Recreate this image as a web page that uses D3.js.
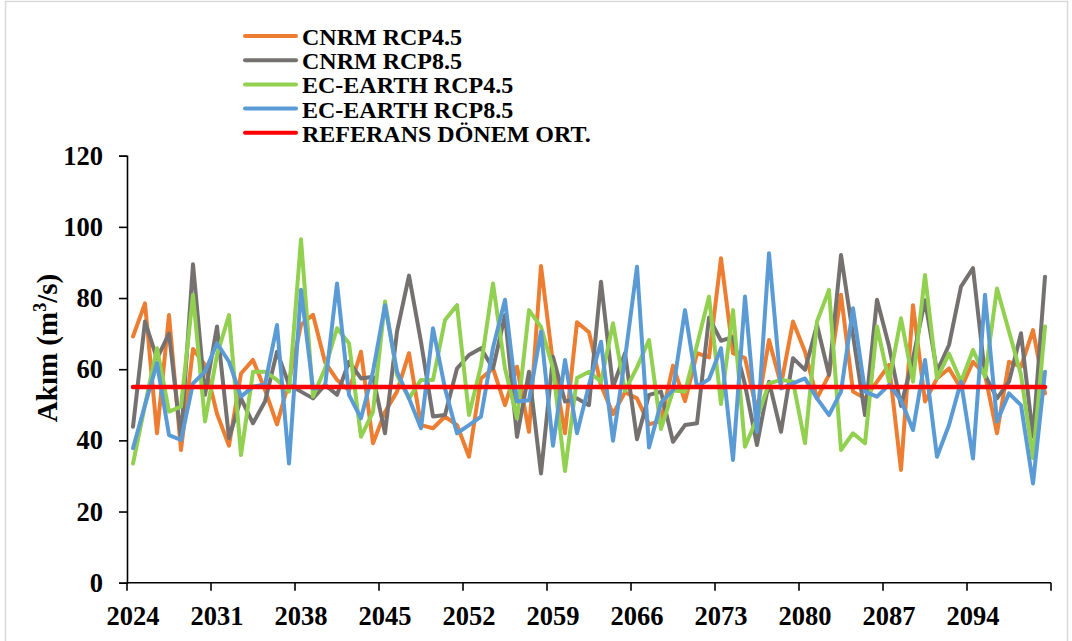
<!DOCTYPE html>
<html><head><meta charset="utf-8">
<script src="https://cdn.jsdelivr.net/npm/d3@7"></script>
<style>
html,body{margin:0;padding:0;background:#fff;}
svg{display:block;}
text{font-family:"Liberation Serif","Times New Roman",serif;font-weight:bold;fill:#000;}
</style>
</head><body>
<svg id="chart" width="1072" height="641"></svg>
<script>
const years = d3.range(2024, 2101);
const xTickLabels = ["2024","2031","2038","2045","2052","2059","2066","2073","2080","2087","2094"];
const yTickValues = [0,20,40,60,80,100,120];
const referansOrt = 55;

const cnrm45 = [69.2,78.5,42,75.2,37.3,65.7,61.2,47.5,38.5,58.8,62.6,54.2,44.5,56.5,72.5,75.3,62,57,54,64.9,
 39.2,48,53.7,64.5,44.3,43.4,46.7,44.3,35.4,57.4,60.2,49.9,60.7,42.4,89,61.5,42,73.2,70.4,55.5,
 47.4,53.5,51.8,44.5,45.5,61,51,64.5,63.3,91.2,64.5,63.1,48.1,68.2,55.6,73.4,64.9,51.8,58.4,80.9,
 53.7,51.8,56.5,61.2,31.7,78,50.9,57.4,60.2,54.6,62.1,58.4,42,62.1,60.7,71,53.2];
const cnrm85 = [43.8,73.4,63,70,40.6,89.5,52.8,72,40.6,51.8,44.8,50.9,64.9,55.6,53.7,51.8,55.6,52.8,62.1,57.4,
 57.9,42,70.6,86.3,67.7,46.7,47.1,60.2,64,65.9,60.2,75.2,41,59.3,30.7,63.5,50.9,51.8,49.9,84.6,
 55,64.5,40.3,52.8,53.7,39.6,44.3,44.8,74.5,68,69,55.6,38.7,56.5,42.4,63.1,59.8,72.4,58.4,92.1,
 69.6,47.1,79.5,66.5,49.7,63,79.4,59.3,66.8,83.2,88.4,58.4,51.8,56.5,70.1,41,86];
const ecearth45 = [33.5,49.9,65.9,48.1,49.5,80.9,45.3,64,75.2,35.9,59.3,59.3,57,53.7,96.5,52.3,60.2,71.5,67.3,41,
 48,79,58.4,51.8,57,57,73.8,78,47.1,61,84.1,60.2,46.2,76.6,71.9,60.2,31.4,57.5,59.3,56.5,
 72.9,53.9,60.5,68.2,43.2,54,53.7,66.8,80.4,50.2,76.6,38.2,46.2,56,57,56.5,39.2,73.4,82.3,37.3,
 42,39.2,72,56.5,74.3,56.5,86.5,57.4,64.4,56.5,65.4,57.9,82.7,70.6,58.4,35,72];
const ecearth85 = [37.8,49.9,61.7,41.5,40.1,56,59.3,67.3,62.1,52.3,55.1,55.7,72.4,33.5,82.3,54.6,55.1,84.1,52.8,46.2,
 59.3,78,59.3,51.8,43.4,71.5,54.6,42,44.3,46.7,66,79.5,50.9,51.3,70.6,38.5,62.6,42,55.6,67.7,
 39.9,63,88.8,38,50.6,54.2,76.6,55,57.2,65.9,34.5,80.4,42.4,92.6,54.6,56,57.4,51.8,47.1,53.7,
 77.1,53.7,52.3,55.6,51.3,42.9,62.6,35.4,44.3,56.5,34.9,80.9,45.3,53.2,49.9,27.9,59.3];

const seriesNames = ["CNRM RCP4.5","CNRM RCP8.5","EC-EARTH RCP4.5","EC-EARTH RCP8.5","REFERANS DÖNEM ORT."];
const seriesColors = ["#ED7D31","#767171","#92D050","#5B9BD5","#FF0000"];
const seriesData = [cnrm45, cnrm85, ecearth45, ecearth85];

const svg = d3.select("#chart");
svg.append("rect").attr("x",0).attr("y",0).attr("width",1072).attr("height",641).attr("fill","#fff");
svg.append("rect").attr("x",5.5).attr("y",1.5).attr("width",1062).attr("height",660)
  .attr("fill","none").attr("stroke","#d9d9d9").attr("stroke-width",1.5);

const x = d3.scaleBand().domain(years).range([127,1051]).paddingInner(0).paddingOuter(0);
const y = d3.scaleLinear().domain([0,120]).range([582.7,155.7]);
const cx = d => x(d) + x.bandwidth()/2;

// Y axis
const yAxis = svg.append("g").attr("transform","translate(127,0)")
  .call(d3.axisLeft(y).tickValues(yTickValues).tickSize(8).tickPadding(16).tickFormat(d3.format("d")));
yAxis.select(".domain").attr("stroke","#000").attr("stroke-width",1.6);
yAxis.selectAll(".tick line").attr("stroke","#000").attr("stroke-width",1.6);
yAxis.selectAll(".tick text").style("font-size","26.5px").style("font-family","'Liberation Serif',serif").style("font-weight","bold").attr("fill","#000");

// X axis
const xg = svg.append("g");
const x0 = x.range()[0], x1 = x.range()[1], yb = y(0);
xg.append("line").attr("x1",x0).attr("x2",x1).attr("y1",yb).attr("y2",yb).attr("stroke","#000").attr("stroke-width",1.6);
const tickPos = xTickLabels.map(l => x(+l)).concat([x1]);
xg.selectAll("line.t").data(tickPos).join("line").attr("class","t")
  .attr("x1",d=>d).attr("x2",d=>d).attr("y1",yb).attr("y2",yb+8).attr("stroke","#000").attr("stroke-width",1.6);
xg.selectAll("text").data(xTickLabels).join("text")
  .attr("x",d=>cx(+d)).attr("y",yb+42).attr("text-anchor","middle").style("font-size","26.5px").text(d=>d);

// Y title
const yt = svg.append("text").attr("transform","translate(57,348) rotate(-90)").attr("text-anchor","middle").style("font-size","29px");
yt.append("tspan").text("Akım (m");
yt.append("tspan").attr("dy",-11).style("font-size","18px").text("3");
yt.append("tspan").attr("dy",11).text("/s)");

// Lines
const line = d3.line().x((d,i)=>cx(years[i])).y(d=>y(d));
seriesData.forEach((s,k) => {
  svg.append("path").datum(s).attr("d",line).attr("fill","none").attr("stroke",seriesColors[k])
    .attr("stroke-width",4).attr("stroke-linejoin","round").attr("stroke-linecap","round");
});
svg.append("line").attr("x1",cx(years[0])).attr("x2",cx(years[years.length-1]))
  .attr("y1",y(referansOrt)).attr("y2",y(referansOrt)).attr("stroke",seriesColors[4]).attr("stroke-width",4.5).attr("stroke-linecap","round");

// Legend
const lg = svg.append("g");
seriesNames.forEach((n,k) => {
  const ly = 36 + k*24.2;
  lg.append("line").attr("x1",245).attr("x2",296).attr("y1",ly).attr("y2",ly).attr("stroke",seriesColors[k]).attr("stroke-width",4).attr("stroke-linecap","round");
  lg.append("text").attr("x",302).attr("y",ly+9).style("font-size","24px").text(n);
});
</script>
</body></html>
